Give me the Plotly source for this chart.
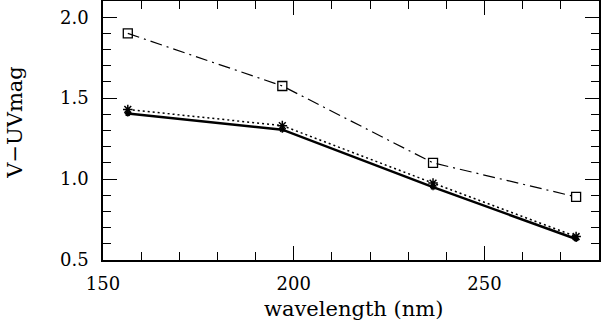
import plotly.graph_objs as go

wavelength = [156.5, 197, 236.5, 274]
v_uv_solid = [1.405, 1.305, 0.95, 0.63]
v_uv_dotted = [1.43, 1.33, 0.975, 0.645]
v_uv_dashdot = [1.90, 1.575, 1.10, 0.89]

font_name = "DejaVu Serif"

fig = go.Figure()

fig.add_trace(go.Scatter(
    x=wavelength, y=v_uv_dashdot, mode="lines+markers",
    line=dict(color="black", width=1.2, dash="12px,5px,2px,5px"),
    marker=dict(symbol="square-open", size=9, color="black", line=dict(width=1.3)),
))
fig.add_trace(go.Scatter(
    x=wavelength, y=v_uv_dotted, mode="lines+markers",
    line=dict(color="black", width=1.5, dash="2px,3px"),
    marker=dict(symbol="asterisk-open", size=8, color="black", line=dict(width=1.5)),
))
fig.add_trace(go.Scatter(
    x=wavelength, y=v_uv_solid, mode="lines+markers",
    line=dict(color="black", width=2.5),
    marker=dict(symbol="asterisk-open", size=5, color="black", line=dict(width=1.5)),
))

axis_common = dict(
    showgrid=False, zeroline=False, showline=True, linecolor="black", linewidth=1.5,
    mirror="allticks", ticks="inside", tickcolor="black", tickwidth=1.2, ticklen=14,
    tickfont=dict(family=font_name, size=18, color="black"), automargin=False,
)

fig.update_xaxes(
    range=[150, 280], tick0=150, dtick=50, ticklabelstandoff=7,
    minor=dict(dtick=10, ticks="inside", ticklen=8, tickcolor="black", tickwidth=1.2),
    **axis_common,
)
fig.update_yaxes(
    range=[0.5, 2.1], tick0=0.5, dtick=0.5, tickformat=".1f", ticklabelstandoff=9,
    minor=dict(dtick=0.1, ticks="inside", ticklen=8, tickcolor="black", tickwidth=1.2),
    **axis_common,
)

title_font = dict(family=font_name, size=21, color="black")
fig.add_annotation(text="wavelength (nm)", xref="paper", yref="paper", x=0.505, y=0,
                   yshift=-49, xanchor="center", yanchor="middle", showarrow=False, font=title_font)
fig.add_annotation(text="V−UVmag", xref="paper", yref="paper", x=0, y=0.53,
                   xshift=-88, xanchor="center", yanchor="middle", textangle=-90,
                   showarrow=False, font=title_font)

fig.update_layout(
    width=601, height=324, showlegend=False,
    plot_bgcolor="white", paper_bgcolor="white",
    margin=dict(l=103, r=2, t=1, b=64),
)

# drop the page's default 8px body margin so the figure sits at the window corner
fig.write_html("out.html", config={"displayModeBar": False},
               post_script="document.body.style.margin='0';")
